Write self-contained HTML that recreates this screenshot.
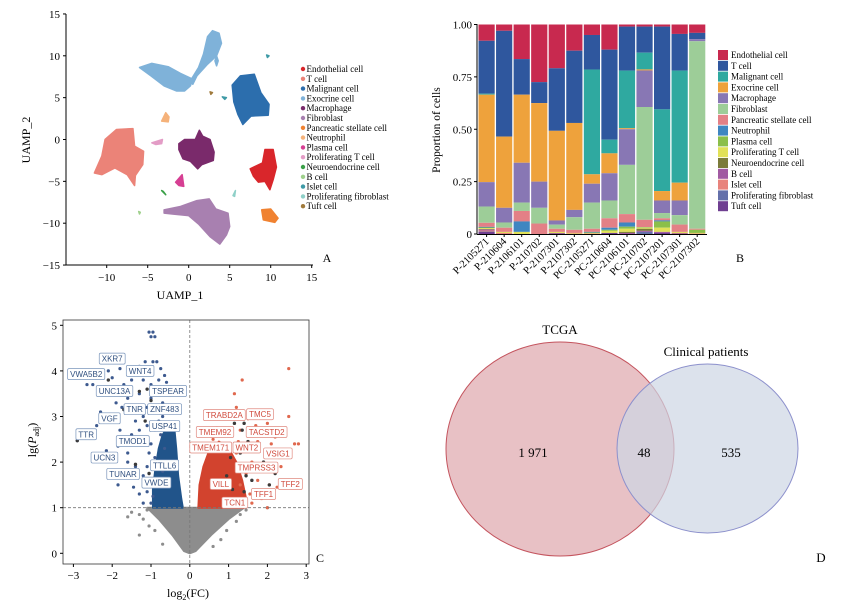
<!DOCTYPE html>
<html><head><meta charset="utf-8"><style>
html,body{margin:0;padding:0;background:#fff;}
svg{display:block;font-family:"Liberation Serif",serif;}
</style></head><body>
<svg id="fig" width="843" height="604" viewBox="0 0 843 604" xmlns="http://www.w3.org/2000/svg">
<g id="pa"></g>
<g id="pb"></g>
<g id="pc"></g>
<g id="pd">
  <ellipse cx="560" cy="449" rx="114" ry="107" fill="#e8c1c5" stroke="#c4545e" stroke-width="1"/>
  <ellipse cx="707.5" cy="448.5" rx="90.5" ry="84.5" fill="rgba(205,213,228,0.7)" stroke="#8c90cc" stroke-width="1"/>
  <text x="560" y="334" font-size="13" text-anchor="middle">TCGA</text>
  <text x="706" y="356" font-size="13" text-anchor="middle">Clinical patients</text>
  <text x="533" y="457" font-size="13" text-anchor="middle">1 971</text>
  <text x="644" y="457" font-size="13" text-anchor="middle">48</text>
  <text x="731" y="457" font-size="13" text-anchor="middle">535</text>
  <text x="821" y="562" font-size="13" text-anchor="middle">D</text>
</g>
</svg>
<script>
// ---------- Panel A data ----------
const umapNames = ["Endothelial cell","T cell","Malignant cell","Exocrine cell","Macrophage","Fibroblast","Pancreatic stellate cell","Neutrophil","Plasma cell","Proliferating T cell","Neuroendocrine cell","B cell","Islet cell","Proliferating fibroblast","Tuft cell"];
const umapColors = ["#d9262b","#eb8378","#2c6ead","#7fb2d9","#7a2a6b","#a880b0","#f08231","#f5b27a","#d63f93","#e39cc6","#3aa048","#9fd08c","#3e9aa6","#8fd0c8","#a07a3c"];
const umapClusters = [
 [0,[[7.5,-3.5],[9,-2.8],[9.3,-1.2],[10.3,-1.2],[10.7,-3.3],[10.3,-4.8],[9.9,-6],[9.3,-5],[8.5,-5.1],[7.9,-4.4]]],
 [1,[[-11.5,-4],[-10.6,-2],[-10.2,0],[-8.8,1.2],[-6.8,1.3],[-6.6,-0.8],[-5.5,-1.4],[-5.6,-3],[-6.5,-4.3],[-6.6,-5.5],[-7.5,-4.2],[-9,-3.4],[-10.6,-4.2]]],
 [2,[[5.3,6.5],[6.3,7.6],[8,7.8],[8.8,5.6],[9.8,4.2],[9.7,2.9],[7.6,2.8],[6.6,1.8],[6,3],[5.5,4.5]]],
 [3,[[-6,8.6],[-4.5,9.1],[-2.5,8.7],[-1,7.9],[0.5,7.2],[0.2,6.4],[-0.5,5.8],[-1.5,5.8],[-3,6.4],[-4.6,7.6]]],
 [3,[[0.2,7.0],[1.2,8.6],[1.8,10.2],[2.3,12.3],[2.9,13],[3.7,12.7],[4,11.5],[3.4,10],[2.3,9],[1.0,7.6],[0.5,6.6]]],
 [4,[[-1.2,-0.5],[-0.5,0],[0.8,0],[1.3,1.1],[1.7,0.4],[2.6,0],[3.1,-1.5],[3,-2.5],[1.6,-3],[1.1,-3.5],[0.2,-2.6],[-0.7,-2.3],[-1.2,-1.2]]],
 [5,[[-3,-8.4],[-1,-8],[1,-7.3],[2.5,-7.1],[3.3,-8.3],[4.8,-8.8],[5,-10.4],[4.6,-11.4],[3.8,-12.5],[2.6,-11.6],[1.2,-10.1],[0,-9.1],[-2,-8.9],[-3,-8.8]]],
 [6,[[8.9,-8.4],[10,-8.3],[10.9,-9.4],[10.5,-9.9],[9.1,-9.6]]],
 [7,[[-3.3,2.2],[-2.8,3.2],[-2.4,2.7],[-2.5,2.1]]],
 [8,[[-1.6,-5.1],[-0.8,-4.2],[-0.6,-5.6],[-1.2,-5.5]]],
 [9,[[-4.5,-0.4],[-3.2,0],[-3.3,-0.5],[-4,-0.6]]],
 [10,[[-3.3,-6.1],[-3.0,-6.4],[-2.8,-6.6],[-3.1,-6.2]]],
 [11,[[-6.1,-8.6],[-5.9,-8.7],[-6,-8.9]]],
 [12,[[4.1,5.1],[4.6,5],[4.4,4.8]]],
 [13,[[5.4,-6.7],[5.7,-6.1],[5.6,-6.8]]],
 [14,[[2.6,5.7],[2.9,5.6],[2.7,5.4]]],
 [3,[[3.4,10],[3.6,9.4],[3.4,8.8],[3.2,9.4]]],
 [12,[[9.5,10.1],[9.8,10],[9.6,9.8]]]
];
const umapXTicks = [-10,-5,0,5,10,15];
const umapYTicks = [-15,-10,-5,0,5,10,15];

// ---------- Panel B data ----------
const sampleNames = ["P-2105271","P-210604","P-2106101","P-210702","P-2107301","P-2107302","PC-2105271","PC-210604","PC-2106101","PC-210702","PC-2107201","PC-2107301","PC-2107302"];
const cellTypes = ["Endothelial cell","T cell","Malignant cell","Exocrine cell","Macrophage","Fibroblast","Pancreatic stellate cell","Neutrophil","Plasma cell","Proliferating T cell","Neuroendocrine cell","B cell","Islet cell","Proliferating fibroblast","Tuft cell"];
const cellColors = ["#c8294f","#2f579e","#2fa9a0","#eea23c","#8877b4","#9dcd98","#e38086","#3f86c1","#8bbf4a","#e1e157","#7b7b3a","#a15aa2","#e8837c","#6470aa","#6f3f91"];
const propEndothelial = [0.08,0.03,0.165,0.275,0.21,0.125,0.05,0.12,0.01,0.01,0.01,0.045,0.04];
const propTcell       = [0.26,0.505,0.17,0.10,0.30,0.345,0.165,0.43,0.21,0.125,0.395,0.175,0.03];
const propMalignant   = [0.005,0,0,0,0,0,0.50,0.065,0.275,0.08,0.39,0.535,0];
const propExocrine    = [0.43,0.34,0.325,0.375,0.43,0.415,0.045,0.095,0.005,0.005,0.045,0.085,0];
const propMacrophage  = [0.12,0.07,0.19,0.125,0.02,0.035,0.09,0.13,0.17,0.175,0.06,0.07,0.01];
const propFibroblast  = [0.08,0.025,0.04,0.075,0.02,0.06,0.125,0.085,0.235,0.54,0.025,0.045,0.895];
const propStellate    = [0.02,0.02,0.05,0.05,0.015,0.015,0.015,0.045,0.04,0.035,0.01,0.035,0.005];
const propNeutrophil  = [0.003,0,0.05,0,0,0,0.003,0.01,0.02,0,0.005,0,0];
const propPlasma      = [0.003,0,0,0,0,0,0.002,0.005,0.01,0.003,0.03,0,0.015];
const propProlifT     = [0.005,0.005,0.01,0,0.005,0.003,0.003,0.01,0.015,0.005,0.02,0.005,0.003];
const propNeuro       = [0.002,0,0,0,0,0,0,0,0.005,0.01,0,0,0];
const propBcell       = [0.005,0,0,0,0,0,0,0,0.005,0.005,0.005,0,0];
const propIslet       = [0.005,0.005,0,0,0.002,0.002,0.002,0,0,0,0,0.003,0.002];
const propProlifFib   = [0.002,0,0,0,0,0,0,0,0,0.01,0,0,0];
const propTuft        = [0.01,0,0,0,0.003,0,0,0.005,0,0,0.005,0.002,0];
const propSeries = [propEndothelial,propTcell,propMalignant,propExocrine,propMacrophage,propFibroblast,propStellate,propNeutrophil,propPlasma,propProlifT,propNeuro,propBcell,propIslet,propProlifFib,propTuft];
const propTicks = [0,0.25,0.5,0.75,1];
const propTickLabels = ["0","0.25","0.50","0.75","1.00"];

// ---------- Panel C data ----------
const volcXTicks = [-3,-2,-1,0,1,2,3];
const volcYTicks = [0,1,2,3,4,5];
const blueDense = [[-0.95,1],[-0.95,1.4],[-0.88,1.9],[-0.8,2.3],[-0.7,2.6],[-0.55,2.8],[-0.4,2.75],[-0.35,2.3],[-0.3,1.7],[-0.22,1.2],[-0.18,1]];
const redDense = [[0.22,1],[0.25,1.5],[0.35,1.9],[0.5,2.25],[0.75,2.45],[1.0,2.3],[1.2,2.0],[1.35,1.6],[1.45,1.2],[1.4,1]];
const grayDense = [[-1.1,1],[-0.8,0.75],[-0.45,0.4],[-0.15,0.05],[0,0],[0.15,0.05],[0.55,0.4],[1.0,0.75],[1.4,1]];
const bluePts = [[-1.05,4.85],[-0.95,4.85],[-1,4.75],[-0.9,4.75],[-1.15,4.2],[-0.95,4.2],[-0.85,4.2],[-2.3,4.0],[-2.1,4.0],[-1.8,4.05],[-1.6,4.05],[-1.4,3.95],[-0.65,3.9],[-0.6,3.75],[-2.65,3.7],[-2.5,3.7],[-2.0,3.6],[-1.7,3.7],[-1.2,3.8],[-0.8,3.8],[-1.9,3.3],[-1.6,3.4],[-1.3,3.5],[-1.0,3.4],[-0.7,3.3],[-2.3,3.1],[-2.1,3.0],[-1.5,3.1],[-1.2,3.0],[-0.9,3.1],[-0.55,3.15],[-2.4,2.8],[-1.8,2.7],[-1.5,2.6],[-1.1,2.8],[-0.8,2.9],[-2.9,2.47],[-1.85,2.35],[-1.6,2.2],[-1.3,2.4],[-1.0,2.4],[-2.15,2.25],[-1.95,2.05],[-1.6,2.0],[-1.4,1.9],[-1.1,1.9],[-0.9,2.1],[-1.8,1.7],[-1.2,1.7],[-0.95,1.6],[-1.85,1.5],[-1.45,1.45],[-1.1,1.35],[-0.95,1.25],[-1.2,1.1],[-0.8,1.5],[-0.7,1.8],[-0.65,2.3],[-0.75,2.6],[-2.0,3.85],[-1.3,4.1],[-0.75,4.05],[-1.5,3.8],[-2.2,3.5],[-1.75,3.2],[-1.4,2.9],[-0.6,2.7],[-1.0,3.7],[-0.85,3.55],[-1.1,3.2],[-0.7,3.0],[-1.3,2.7],[-0.9,2.7],[-1.05,2.2],[-0.85,1.9],[-1.0,1.1],[-1.3,1.3]];
const redPts = [[2.55,4.05],[1.35,3.8],[1.15,3.5],[1.2,3.2],[1.05,3.05],[0.75,3.0],[1.5,2.95],[1.7,2.8],[2.0,2.85],[2.55,3.0],[1.3,2.7],[1.55,2.65],[1.9,2.6],[2.2,2.55],[0.9,2.7],[1.75,2.45],[2.1,2.4],[2.7,2.4],[2.8,2.4],[0.6,2.5],[1.5,2.3],[2.0,2.2],[2.3,2.1],[1.6,2.0],[1.9,1.95],[2.35,1.9],[1.45,1.75],[1.75,1.6],[2.05,1.5],[2.25,1.45],[1.55,1.3],[1.85,1.2],[2.0,1.0],[1.3,1.5],[1.65,1.9],[1.2,2.2],[0.4,2.6],[0.7,2.75],[1.0,2.6],[1.25,2.45],[1.6,1.1],[1.45,1.05]];
const grayPts = [[-1.3,0.85],[-1.2,0.75],[-1.3,0.4],[-1.05,0.6],[-0.9,0.5],[-1.5,0.9],[1.1,0.9],[1.3,0.85],[1.45,0.95],[1.2,0.7],[0.95,0.5],[0.8,0.3],[2.0,1.0],[-0.7,0.2],[0.6,0.15],[-1.6,0.8],[-1.1,0.95],[0.7,0.75],[-0.6,0.6]];
const darkPts = [[-2.1,3.8],[-1.3,3.55],[-1.1,3.6],[-1.0,3.35],[-1.7,3.15],[-1.15,2.9],[-2.1,2.05],[-1.4,1.95],[-1.05,1.75],[-2.9,2.47],[1.15,2.85],[1.4,2.85],[1.35,2.7],[1.5,2.45],[1.9,2.0],[1.3,2.2],[1.45,1.7],[2.2,1.75],[1.6,1.6],[2.05,1.5],[1.4,1.35],[1.1,1.4],[1.05,2.1],[0.95,1.7]];
const downLabels = [["XKR7",-2.0,4.27],["WNT4",-1.28,4.0],["VWA5B2",-2.67,3.93],["UNC13A",-1.94,3.56],["TSPEAR",-0.56,3.56],["TNR",-1.42,3.16],["ZNF483",-0.65,3.16],["VGF",-2.07,2.96],["USP41",-0.65,2.79],["TTR",-2.67,2.61],["TMOD1",-1.47,2.46],["UCN3",-2.2,2.1],["TTLL6",-0.65,1.93],["TUNAR",-1.72,1.74],["VWDE",-0.86,1.55]];
const upLabels = [["TRABD2A",0.89,3.03],["TMC5",1.81,3.05],["TMEM92",0.65,2.66],["TACSTD2",1.98,2.66],["TMEM171",0.54,2.32],["WNT2",1.47,2.32],["VSIG1",2.27,2.19],["TMPRSS3",1.72,1.88],["VILL",0.8,1.52],["TFF2",2.59,1.52],["TFF1",1.9,1.3],["TCN1",1.16,1.11]];

const NS="http://www.w3.org/2000/svg";
function mk(tag, attrs, parent){const e=document.createElementNS(NS,tag);for(const k in attrs)e.setAttribute(k,attrs[k]);parent.appendChild(e);return e;}

// ===== Panel A =====
const pa=document.getElementById('pa');
const ax=v=>188.7+v*8.2, ay=v=>139.5-v*8.37;
umapClusters.forEach(c=>{
  const p=mk('polygon',{points:c[1].map(q=>ax(q[0])+','+ay(q[1])).join(' '),fill:umapColors[c[0]],stroke:umapColors[c[0]],'stroke-width':1.5,'stroke-linejoin':'round'},pa);
  
  
});
let l=mk('line',{x1:66,y1:14,x2:66,y2:265,stroke:'#000','stroke-width':1},pa);

l=mk('line',{x1:66,y1:265,x2:313,y2:265,stroke:'#000','stroke-width':1},pa);

umapXTicks.forEach(v=>{
  mk('line',{x1:ax(v),y1:265,x2:ax(v),y2:268,stroke:'#000'},pa);
  const t=mk('text',{x:ax(v),y:281,'font-size':11,'text-anchor':'middle'},pa);
  t.textContent=v<0?'\u2212'+(-v):String(v);
  
});
umapYTicks.forEach(v=>{
  mk('line',{x1:63,y1:ay(v),x2:66,y2:ay(v),stroke:'#000'},pa);
  const t=mk('text',{x:60,y:ay(v)+4,'font-size':11,'text-anchor':'end'},pa);
  t.textContent=v<0?'\u2212'+(-v):String(v);
  
});
let t=mk('text',{x:180,y:299,'font-size':12,'text-anchor':'middle'},pa);t.textContent='UAMP_1';

t=mk('text',{x:30,y:140,'font-size':12,'text-anchor':'middle',transform:'rotate(-90 30 140)'},pa);t.textContent='UAMP_2';

t=mk('text',{x:327,y:262,'font-size':12,'text-anchor':'middle'},pa);t.textContent='A';

umapNames.forEach((n,i)=>{
  const y=72+i*9.8;
  const g=mk('g',{},pa);
  
  mk('circle',{cx:303,cy:y-3,r:2.2,fill:umapColors[i]},g);
  const tt=mk('text',{x:306.5,y:y,'font-size':9},g);tt.textContent=n;
});

// ===== Panel B =====
const pb=document.getElementById('pb');
const by=v=>234-v*209.5, bx0=478.5, bstep=17.55, bw=16.2;
sampleNames.forEach((s,i)=>{
  const total=propSeries.reduce((a,ser)=>a+ser[i],0);
  let cum=1;
  propSeries.forEach((ser,k)=>{
    const v=ser[i]/total; if(v<=0)return;
    const r=mk('rect',{x:bx0+i*bstep,y:by(cum),width:bw,height:Math.max(0,by(cum-v)-by(cum)),fill:cellColors[k]},pb);
    
    
    cum-=v;
  });
  const cx=bx0+i*bstep+bw/2;
  mk('line',{x1:cx,y1:234,x2:cx,y2:237,stroke:'#000'},pb);
  const tx=mk('text',{x:cx+3,y:242,'font-size':10.5,'text-anchor':'end',transform:`rotate(-45 ${cx+3} 242)`},pb);
  tx.textContent=s;
  
});
l=mk('line',{x1:477,y1:24,x2:477,y2:234.5,stroke:'#000'},pb);

l=mk('line',{x1:477,y1:234.5,x2:707,y2:234.5,stroke:'#000'},pb);

propTicks.forEach((v,i)=>{
  mk('line',{x1:474,y1:by(v),x2:477,y2:by(v),stroke:'#000'},pb);
  const tt=mk('text',{x:472,y:by(v)+4,'font-size':11,'text-anchor':'end'},pb);tt.textContent=propTickLabels[i];
  
});
t=mk('text',{x:440,y:130,'font-size':11.5,'text-anchor':'middle',transform:'rotate(-90 440 130)'},pb);t.textContent='Proportion of cells';

t=mk('text',{x:740,y:262,'font-size':12,'text-anchor':'middle'},pb);t.textContent='B';

cellTypes.forEach((n,i)=>{
  const y=50+i*10.8;
  const g=mk('g',{},pb);
  
  mk('rect',{x:718,y:y,width:10,height:10,fill:cellColors[i]},g);
  const tt=mk('text',{x:731,y:y+8,'font-size':9},g);tt.textContent=n;
});

// ===== Panel C =====
const pc=document.getElementById('pc');
const cx_=v=>189.8+v*38.8, cy_=v=>553.3-v*45.6;
const poly=(pts,fill,name)=>{const p=mk('polygon',{points:pts.map(q=>cx_(q[0])+','+cy_(q[1])).join(' '),fill:fill,stroke:fill,'stroke-width':2,'stroke-linejoin':'round'},pc);};
grayPts.forEach(q=>{const c=mk('circle',{cx:cx_(q[0]),cy:cy_(q[1]),r:1.6,fill:'#8d8d8d'},pc);});
poly(grayDense,'#8d8d8d','nonsig-region');
poly(blueDense,'#21548a','down-region');
poly(redDense,'#d2432e','up-region');
bluePts.forEach(q=>{const c=mk('circle',{cx:cx_(q[0]),cy:cy_(q[1]),r:1.6,fill:'#3d5a8f'},pc);});
redPts.forEach(q=>{const c=mk('circle',{cx:cx_(q[0]),cy:cy_(q[1]),r:1.6,fill:'#e0684e'},pc);});
darkPts.forEach(q=>{const c=mk('circle',{cx:cx_(q[0]),cy:cy_(q[1]),r:1.7,fill:'#3a3a3a'},pc);});
l=mk('line',{x1:63,y1:cy_(1),x2:309,y2:cy_(1),stroke:'#777','stroke-dasharray':'3,2','stroke-width':0.8},pc);

l=mk('line',{x1:cx_(0),y1:320,x2:cx_(0),y2:564,stroke:'#777','stroke-dasharray':'3,2','stroke-width':0.8},pc);

const lab=(arr,col,bord,name)=>arr.forEach(a=>{
  const g=mk('g',{},pc);
  
  const r=mk('rect',{fill:'#fff',stroke:bord,'stroke-width':0.7,rx:1.5},g);
  const tt=mk('text',{x:cx_(a[1]),y:cy_(a[2])+3,'font-size':8,'text-anchor':'middle',fill:col,'font-family':'Liberation Sans, sans-serif'},g);
  tt.textContent=a[0];
  const w=tt.getComputedTextLength()+5;
  r.setAttribute('x',cx_(a[1])-w/2);r.setAttribute('y',cy_(a[2])-5.5);r.setAttribute('width',w);r.setAttribute('height',11);
});
lab(downLabels,'#2f4f7f','#7a95bb','down-gene-label');
lab(upLabels,'#d04a3c','#e08a80','up-gene-label');
l=mk('rect',{x:63,y:320,width:246,height:244,fill:'none',stroke:'#333','stroke-width':0.8},pc);

volcXTicks.forEach(v=>{
  mk('line',{x1:cx_(v),y1:564,x2:cx_(v),y2:567,stroke:'#000'},pc);
  const tt=mk('text',{x:cx_(v),y:579,'font-size':11,'text-anchor':'middle'},pc);
  tt.textContent=v<0?'\u2212'+(-v):String(v);
  
});
volcYTicks.forEach(v=>{
  mk('line',{x1:60,y1:cy_(v),x2:63,y2:cy_(v),stroke:'#000'},pc);
  const tt=mk('text',{x:57,y:cy_(v)+4,'font-size':11,'text-anchor':'end'},pc);
  tt.textContent=String(v);
  
});
t=mk('text',{x:188,y:597,'font-size':12,'text-anchor':'middle'},pc);
t.innerHTML='log<tspan font-size="8" dy="3">2</tspan><tspan dy="-3">(FC)</tspan>';

t=mk('text',{x:36,y:440,'font-size':12,'text-anchor':'middle',transform:'rotate(-90 36 440)'},pc);
t.innerHTML='lg(<tspan font-style="italic">P</tspan><tspan font-size="8" dy="3">adj</tspan><tspan dy="-3">)</tspan>';

t=mk('text',{x:320,y:562,'font-size':12,'text-anchor':'middle'},pc);t.textContent='C';

</script>
</body></html>
